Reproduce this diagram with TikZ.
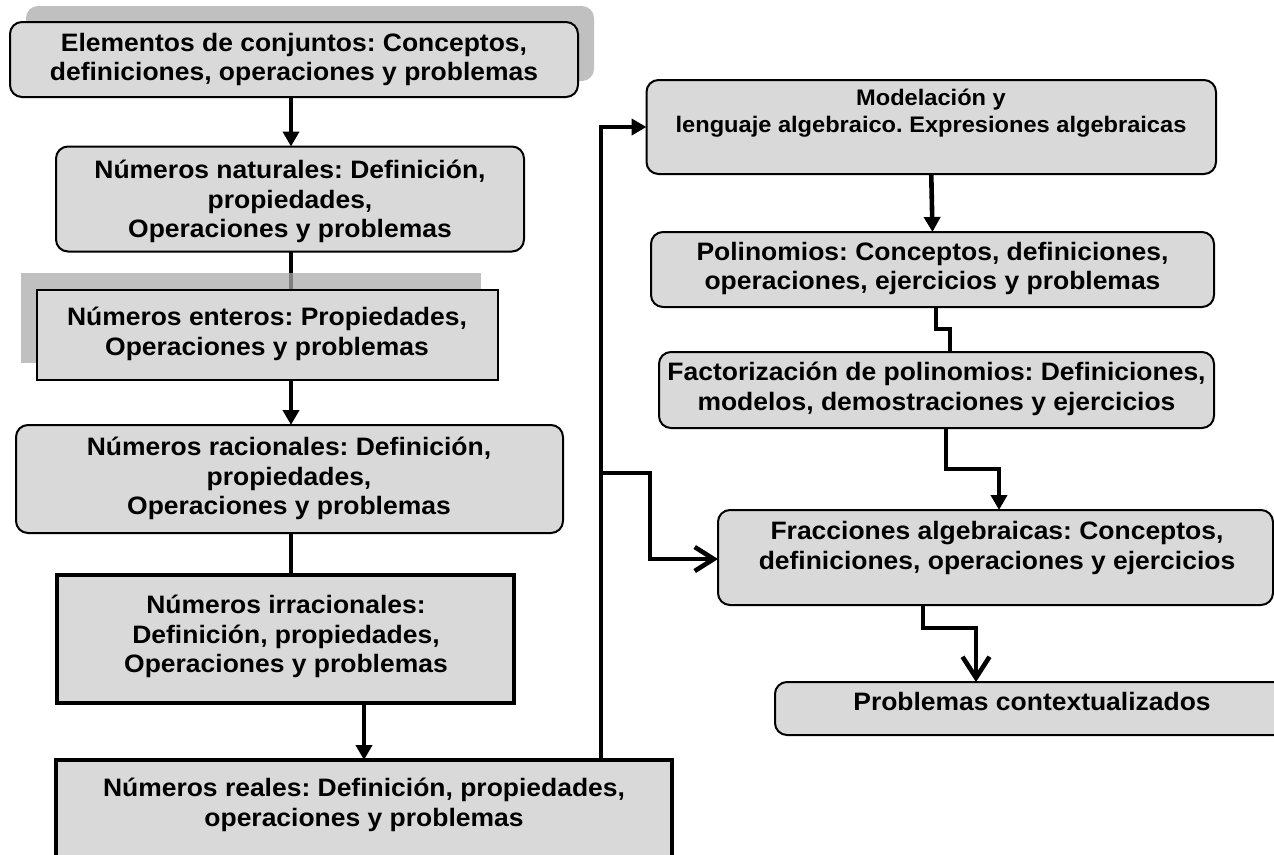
\documentclass[tikz,border=0pt]{standalone}
\usepackage{fontspec}
\setmainfont{Liberation Sans}[FakeStretch=1.05]
\usetikzlibrary{arrows.meta}
\definecolor{boxgray}{RGB}{217,217,217}
\definecolor{shadowgray}{RGB}{171,171,171}
\pgfdeclarelayer{back}
\pgfsetlayers{back,main}
\frenchspacing
\begin{document}
\begin{tikzpicture}[x=1pt,y=-1pt,
  every node/.style={inner sep=0pt,outer sep=0pt},
  rbox/.style={draw=black,line width=2pt,fill=boxgray,rounded corners=12pt},
  sqbox/.style={draw=black,line width=2pt,fill=boxgray},
  thbox/.style={draw=black,line width=4pt,fill=boxgray},
  shadowbox/.style={fill=shadowgray,fill opacity=0.75,draw=none},
  lbl/.style={font=\bfseries\fontsize{25.2}{29.5}\selectfont,align=center,text=black},
  lblsm/.style={font=\bfseries\fontsize{22.5}{27}\selectfont,align=center,text=black},
  conn/.style={line width=4.6pt,draw=black},
  tri/.style={-{Triangle[length=15pt,width=16pt]}},
  barb/.style={-{Straight Barb[length=19pt,width=24pt]}},
  bigbarb/.style={-{Straight Barb[length=21pt,width=27pt]}}]
\useasboundingbox (0,0) rectangle (1274,854);
\clip (0,0) rectangle (1274,854);

% left column
\node[rbox,minimum width=568pt,minimum height=75pt] (A) at (294,59.5) {};
\node[rbox,minimum width=468pt,minimum height=105pt] (B) at (290,199) {};
\node[sqbox,minimum width=461pt,minimum height=90pt] (C) at (267.5,335) {};
\node[rbox,minimum width=547pt,minimum height=108pt] (D) at (289.5,479) {};
\node[thbox,minimum width=457pt,minimum height=128pt] (E) at (285.5,639) {};
\node[thbox,minimum width=616pt,minimum height=120pt] (F) at (364,820) {};

% right column
\node[rbox,minimum width=569.5pt,minimum height=94pt] (G) at (931.25,127) {};
\node[rbox,minimum width=563pt,minimum height=75pt] (H) at (932.5,269.5) {};
\node[rbox,minimum width=555pt,minimum height=76pt] (I) at (936.5,390) {};
\node[rbox,minimum width=555pt,minimum height=95pt] (J) at (995.5,557.5) {};
\node[rbox,minimum width=520pt,minimum height=53pt] (K) at (1035,708.5) {};

% texts
\node[lbl] (At) at (294,59.5) {Elementos de conjuntos: Conceptos,\\definiciones, operaciones y problemas};
\node[lbl] (Bt) at (290,201.5) {Números naturales: Definición,\\propiedades,\\Operaciones y problemas};
\node[lbl] (Ct) at (267,334) {Números enteros: Propiedades,\\Operaciones y problemas};
\node[lbl] (Dt) at (289,478.5) {Números racionales: Definición,\\propiedades,\\Operaciones y problemas};
\node[lbl] (Et) at (286,636.5) {Números irracionales:\\Definición, propiedades,\\Operaciones y problemas};
\node[lbl] (Ft) at (364,805) {Números reales: Definición, propiedades,\\operaciones y problemas};
\node[lblsm] (Gt) at (931,113.5) {Modelación y\\lenguaje algebraico. Expresiones algebraicas};
\node[lbl] (Ht) at (932.5,268.5) {Polinomios: Conceptos, definiciones,\\operaciones, ejercicios y problemas};
\node[lbl] (It) at (936.5,389) {Factorización de polinomios: Definiciones,\\modelos, demostraciones y ejercicios};
\node[lbl] (Jt) at (997,548) {Fracciones algebraicas: Conceptos,\\definiciones, operaciones y ejercicios};
\node[lbl] (Kt) at (1032,701) {Problemas contextualizados};

% helper coordinates
\coordinate (sp) at (291,0);
\coordinate (tr) at (601,0);
\coordinate (b1) at (601,473);
\coordinate (b2) at (650,473);
\coordinate (b3) at (650,559);
\coordinate (h1) at (936,329);
\coordinate (h2) at (950,329);
\coordinate (i1) at (946,469);
\coordinate (i2) at (999,469);
\coordinate (j1) at (923,628);
\coordinate (j2) at (976,628);

% background: shadows and the line hidden under the shadow
\begin{pgfonlayer}{back}
\node[shadowbox,rounded corners=12pt,minimum width=568pt,minimum height=75pt] (As) at (310,43.5) {};
\draw[conn] (B.south -| sp) -- (C.north -| sp);
\node[shadowbox,minimum width=460pt,minimum height=90pt] (Cs) at (250.5,317.5) {};
\end{pgfonlayer}

% connectors
\draw[conn,tri] (A.south -| sp) -- (B.north -| sp);
\draw[conn,tri] (C.south -| sp) -- (D.north -| sp);
\draw[conn] (D.south -| sp) -- (E.north -| sp);
\draw[conn,tri] (E.south -| F.north) -- (F.north);
\draw[conn,tri] (F.north -| tr) |- (G.west);
\draw[conn,barb] (b1) -- (b2) -- (b3) -- (J.west |- b3);
\draw[conn,tri] (G.south) -- (H.north);
\draw[conn] (H.south -| h1) -- (h1) -- (h2) -- (I.north -| h2);
\draw[conn,tri] (I.south -| i1) -- (i1) -- (i2) -- (J.north -| i2);
\draw[conn,bigbarb] (J.south -| j1) -- (j1) -- (j2) -- (K.north -| j2);
\end{tikzpicture}
\end{document}
